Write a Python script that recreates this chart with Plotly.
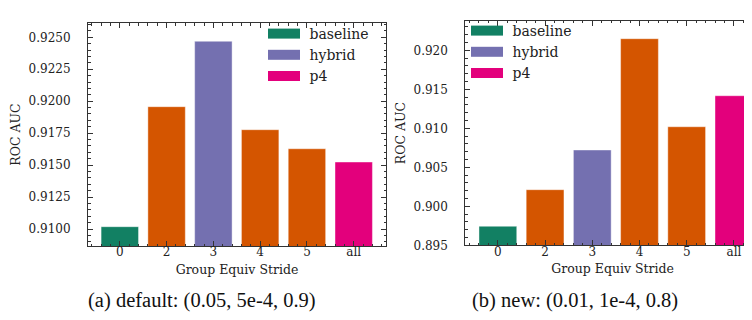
import plotly.graph_objects as go

# ---------------- data ----------------
categories = ["0", "2", "3", "4", "5", "all"]
groups = ["baseline", "strided", "hybrid", "strided", "strided", "p4"]
auc_default = [0.91018, 0.91957, 0.92469, 0.91777, 0.91628, 0.91524]
auc_new = [0.89744, 0.90213, 0.90722, 0.92149, 0.91020, 0.91418]
legend_labels = ["baseline", "hybrid", "p4"]
captions = ["(a) default: (0.05, 5e-4, 0.9)", "(b) new: (0.01, 1e-4, 0.8)"]
x_title = "Group Equiv Stride"
y_title = "ROC AUC"

colors = {
    "baseline": "#128063",
    "strided": "#d45500",
    "hybrid": "#7470b0",
    "p4": "#e3007c",
}

FONT = "DejaVu Serif"
AX = "#333333"

fig = go.Figure()
panels = [
    (auc_default, "x", "y", "legend"),
    (auc_new, "x2", "y2", "legend2"),
]
positions = list(range(len(categories)))
for values, xa, ya, leg in panels:
    for g in ["baseline", "strided", "hybrid", "p4"]:
        idx = [i for i, gg in enumerate(groups) if gg == g]
        fig.add_trace(go.Bar(
            x=[positions[i] for i in idx], y=[values[i] for i in idx],
            width=0.8, marker=dict(color=colors[g], line=dict(width=0.6, color="rgba(255,255,255,0.7)")),
            xaxis=xa, yaxis=ya, showlegend=False, hoverinfo="x+y"))
    for g in legend_labels:
        fig.add_trace(go.Scatter(
            x=[None], y=[None], mode="lines", name="\u00a0" + g,
            line=dict(color=colors[g], width=11),
            xaxis=xa, yaxis=ya, legend=leg, showlegend=True))

def base_axis():
    return dict(
        showline=True, linecolor=AX, linewidth=1,
        ticks="inside", ticklen=5, tickwidth=1, tickcolor=AX,
        showgrid=False, zeroline=False,
        tickfont=dict(family=FONT, size=12, color="#222"),
        title_font=dict(family=FONT, size=12.5, color="#222"),
    )

L, R, T, B = 80, 0, 12, 82
W, H = 752, 320
pw, ph = W - L - R, H - T - B

def px_x(v):
    return (v - L) / pw

def px_y(v):
    return 1 - (v - T) / ph

xa1 = base_axis()
xa1.update(domain=[px_x(80), px_x(378)], range=[-0.68, 5.69], anchor="y",
           tickmode="array", tickvals=positions, ticktext=categories,
           mirror="allticks", ticklabelstandoff=-5,
           minor=dict(tickmode="linear", tick0=0, dtick=0.2, ticks="inside",
                      ticklen=2.5, tickcolor=AX, showgrid=False),
           title=dict(text=x_title, standoff=6))
ya1 = base_axis()
ya1.update(domain=[px_y(238), px_y(15)], range=[0.90867, 0.92612], anchor="x",
           tickmode="linear", tick0=0.91, dtick=0.0025, tickformat=".4f",
           mirror="allticks", ticklabelstandoff=14,
           minor=dict(tickmode="linear", tick0=0.91, dtick=0.0005, ticks="inside",
                      ticklen=2.5, tickcolor=AX, showgrid=False),
           title=dict(text=y_title, standoff=5))
xa2 = base_axis()
xa2.update(domain=[px_x(457.3), 1.0], range=[-0.69, 5.553], anchor="y2",
           tickmode="array", tickvals=positions, ticktext=categories,
           mirror="allticks", ticklabelstandoff=-5,
           minor=dict(tickmode="linear", tick0=0, dtick=0.2, ticks="inside",
                      ticklen=2.5, tickcolor=AX, showgrid=False),
           title=dict(text=x_title, standoff=6))
ya2 = base_axis()
ya2.update(domain=[px_y(237.3), px_y(12.7)], range=[0.895, 0.9238], anchor="x2",
           tickmode="linear", tick0=0.895, dtick=0.005, tickformat=".3f",
           mirror=False, ticklabelstandoff=14,
           minor=dict(tickmode="linear", tick0=0.895, dtick=0.001, ticks="inside",
                      ticklen=2.5, tickcolor=AX, showgrid=False),
           title=dict(text=y_title, standoff=5))

legend_style = dict(font=dict(family=FONT, size=14, color="#222"),
                    bgcolor="rgba(0,0,0,0)", borderwidth=0,
                    xanchor="left", yanchor="top", itemwidth=32,
                    tracegroupgap=0)

fig.update_layout(
    width=W, height=H,
    margin=dict(l=L, r=R, t=T, b=B, autoexpand=False),
    paper_bgcolor="white", plot_bgcolor="white",
    barmode="overlay",
    xaxis=xa1, yaxis=ya1, xaxis2=xa2, yaxis2=ya2,
    legend=dict(x=px_x(255), y=px_y(10), **legend_style),
    legend2=dict(x=px_x(458), y=px_y(7), **legend_style),
    annotations=[
        dict(text=captions[0], x=px_x(194), y=px_y(292), xref="paper", yref="paper",
             showarrow=False, xanchor="center", yanchor="middle",
             font=dict(family="Liberation Serif", size=20.5, color="#111")),
        dict(text=captions[1], x=px_x(567), y=px_y(292), xref="paper", yref="paper",
             showarrow=False, xanchor="center", yanchor="middle",
             font=dict(family="Liberation Serif", size=20.5, color="#111")),
    ],
)

fig.write_html("out.html")
